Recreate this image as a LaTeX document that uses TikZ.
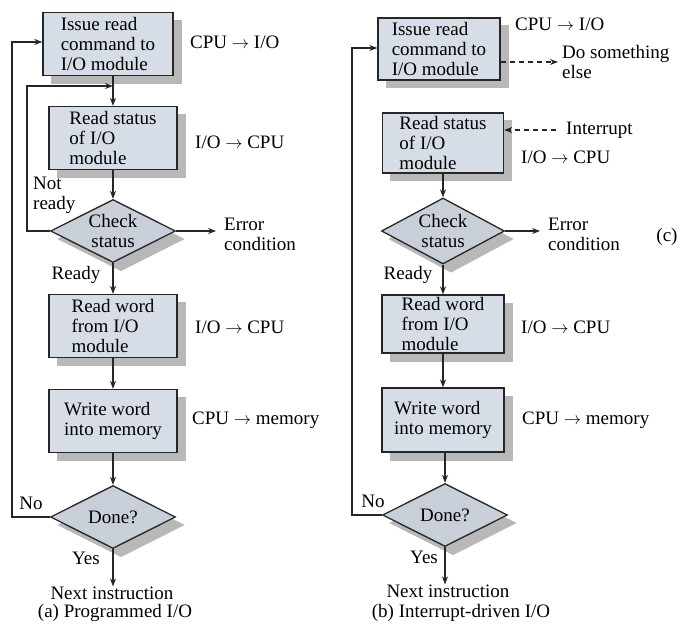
\documentclass[tikz,border=0pt]{standalone}
\usepackage{fontspec}
\setmainfont{Liberation Serif}
\usetikzlibrary{shapes.geometric,arrows.meta,calc}
\definecolor{boxc}{HTML}{D6DDE7}
\definecolor{diac}{HTML}{C8CFD9}
\definecolor{linec}{HTML}{262626}
\definecolor{shadc}{rgb}{0.72,0.72,0.72}
% shadow of a box / diamond centred on coordinate #1, of width #2 and height #3
\newcommand{\shbox}[3]{\filldraw[shd] ($(#1)+({-#2/2+8},{-#3/2+8})$) rectangle ($(#1)+({#2/2+8},{#3/2+8})$);}
\newcommand{\shdia}[3]{\filldraw[shd] ($(#1)+(8,{-#3/2+8})$) -- ($(#1)+({#2/2+8},8)$) -- ($(#1)+(8,{#3/2+8})$) -- ($(#1)+({-#2/2+8},8)$) -- cycle;}
\begin{document}
\begin{tikzpicture}[x=1pt,y=-1pt,font=\fontsize{19}{20}\selectfont,
  box/.style={draw=linec, line width=1.3pt, fill=boxc, minimum width=128pt, minimum height=63pt,
    inner sep=0pt, align=left},
  dia/.style={diamond, draw=linec, line width=1.3pt, fill=diac, aspect=2, inner sep=0pt,
    minimum width=125pt, minimum height=63pt, align=center},
  shd/.style={fill=shadc, draw=shadc, line width=1pt},
  arr/.style={line width=1.2pt, draw=linec, -{Stealth[length=8pt,width=6pt]}},
  dsh/.style={arr, dash pattern=on 5pt off 4pt},
  lbl/.style={anchor=west, inner sep=0pt, align=left},
  txt/.style={inner sep=0pt, align=center}]
\useasboundingbox (0,0) rectangle (687,628);

% centres
\coordinate (pa1) at (108,44);  \coordinate (pa2) at (113,138); \coordinate (pa3) at (113,231);
\coordinate (pa4) at (113,326); \coordinate (pa5) at (113,421); \coordinate (pa6) at (113,517);
\coordinate (pb1) at (439,49);  \coordinate (pb2) at (443,143); \coordinate (pb3) at (443,231);
\coordinate (pb4) at (443,324); \coordinate (pb5) at (443,420); \coordinate (pb6) at (445,515);

% shadows
\shbox{pa1}{130}{63} \shbox{pa2}{128}{63} \shdia{pa3}{125}{63}
\shbox{pa4}{128}{63} \shbox{pa5}{128}{63} \shdia{pa6}{125}{63}
\shbox{pb1}{122}{62} \shbox{pb2}{121}{60} \shdia{pb3}{123}{66}
\shbox{pb4}{122}{58} \shbox{pb5}{122}{64} \shdia{pb6}{125}{63}

% ---------- (a) Programmed I/O ----------
\node[box, minimum width=130pt] (a1) at (pa1) {Issue read\\command to\\I/O module};
\node[box] (a2) at (pa2) {Read status\\of I/O\\module};
\node[dia] (a3) at (pa3) {Check\\status};
\node[box] (a4) at (pa4) {Read word\\from I/O\\module};
\node[box] (a5) at (pa5) {Write word\\into memory};
\node[dia] (a6) at (pa6) {Done?};
\node[txt] (an) at (112,593) {Next instruction};
\node[txt] (acap) at (115,613) {(a) Programmed I/O};

\node[lbl] (al1) at (190,42) {CPU $\rightarrow$ I/O};
\node[lbl] (al2) at (195,142) {I/O $\rightarrow$ CPU};
\node[lbl] (aerr) at (224,234) {Error\\condition};
\node[lbl] (al3) at (195,327) {I/O $\rightarrow$ CPU};
\node[lbl] (al4) at (192,420) {CPU $\rightarrow$ memory};
\node[lbl] (anr) at (33,195) {Not\\ready};
\node[txt] (ard) at (76,275) {Ready};
\node[txt] (ano) at (31,503) {No};
\node[txt] (ayes) at (86,558) {Yes};

\draw[arr] (a1.south -| a2.north) -- (a2.north);
\draw[arr] (a2.south) -- (a3.north);
\draw[arr] (a3.south) -- (a4.north);
\draw[arr] (a4.south) -- (a5.north);
\draw[arr] (a5.south) -- (a6.north);
\draw[arr] (a6.south) -- (a6.south |- an.north);
\draw[arr, shorten >=8pt] (a3.east) -- (a3.east -| aerr.west);
\coordinate (anrc) at (27,86);
\draw[arr] (a3.west) -| (anrc) -- (anrc -| a2.north);
\coordinate (aloop) at (12,42);
\draw[arr] (a6.west) -| (aloop) -- (aloop -| a1.west);

% ---------- (b) Interrupt-driven I/O ----------
\node[box, minimum width=122pt, minimum height=62pt] (b1) at (pb1) {Issue read\\command to\\I/O module};
\node[box, minimum width=121pt, minimum height=60pt] (b2) at (pb2) {Read status\\of I/O\\module};
\node[dia, minimum width=123pt, minimum height=66pt] (b3) at (pb3) {Check\\status};
\node[box, minimum width=122pt, minimum height=58pt] (b4) at (pb4) {Read word\\from I/O\\module};
\node[box, minimum width=122pt, minimum height=64pt] (b5) at (pb5) {Write word\\into memory};
\node[dia] (b6) at (pb6) {Done?};
\node[txt] (bn) at (448,591) {Next instruction};
\node[txt] (bcap) at (461,613) {(b) Interrupt-driven I/O};

\node[lbl] (bl1) at (515,24) {CPU $\rightarrow$ I/O};
\node[lbl] (bds) at (562,62) {Do something\\else};
\node[lbl] (bint) at (566,130) {Interrupt};
\node[lbl] (bl2) at (521,157) {I/O $\rightarrow$ CPU};
\node[lbl] (berr) at (548,234) {Error\\condition};
\node[txt] (bc) at (667,237) {(c)};
\node[lbl] (bl3) at (521,327) {I/O $\rightarrow$ CPU};
\node[lbl] (bl4) at (522,420) {CPU $\rightarrow$ memory};
\node[txt] (brd) at (408,275) {Ready};
\node[txt] (bno) at (373,501) {No};
\node[txt] (byes) at (424,557) {Yes};

\draw[dsh, shorten >=4pt] (b1.east |- bds.west) -- (bds.west);
\draw[dsh, shorten <=10pt] (bint.west) -- (bint.west -| b2.east);
\draw[arr] (b2.south) -- (b3.north);
\draw[arr] (b3.south) -- (b4.north);
\draw[arr] (b4.south) -- (b5.north);
\draw[arr] (b5.south -| b6.north) -- (b6.north);
\draw[arr] (b6.south) -- (b6.south |- bn.north);
\draw[arr, shorten >=8pt] (b3.east) -- (b3.east -| berr.west);
\coordinate (bloop) at (352,48);
\draw[arr] (b6.west) -| (bloop) -- (bloop -| b1.west);
\end{tikzpicture}
\end{document}
